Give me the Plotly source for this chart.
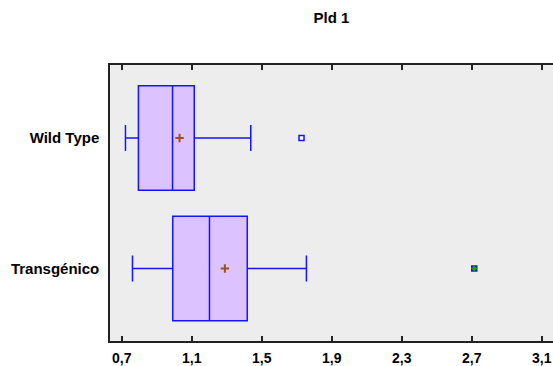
import plotly.graph_objects as go

# Box-and-whisker summary for Pld 1
groups = ["Wild Type", "Transgénico"]
positions = [1, 0]
lower_whisker = [0.721, 0.761]
q1 = [0.795, 0.991]
median = [0.990, 1.201]
q3 = [1.114, 1.417]
upper_whisker = [1.437, 1.755]
means = [1.030, 1.289]

# outside points (open square) and far-out points (filled square)
outlier_x = [1.727]
outlier_pos = [1]
far_outlier_x = [2.714]
far_outlier_pos = [0]

x_ticks = [0.7, 1.1, 1.5, 1.9, 2.3, 2.7, 3.1]

BLUE = "#1414FF"
FONT = "Liberation Sans, Arial, sans-serif"

fig = go.Figure()

fig.add_trace(go.Box(
    y=positions,
    q1=q1, median=median, q3=q3,
    lowerfence=lower_whisker, upperfence=upper_whisker,
    orientation="h",
    width=0.8,
    whiskerwidth=0.25,
    fillcolor="#DCC2FF",
    line=dict(color=BLUE, width=1.5),
    boxpoints=False,
    hoverinfo="skip",
    showlegend=False,
))

fig.add_trace(go.Scatter(
    x=means, y=positions, mode="markers",
    marker=dict(symbol="cross-thin", size=6, line=dict(color="#A0501E", width=2)),
    showlegend=False, hoverinfo="skip",
))

fig.add_trace(go.Scatter(
    x=outlier_x, y=outlier_pos, mode="markers",
    marker=dict(symbol="square", size=5, color="white", line=dict(color=BLUE, width=1.5)),
    showlegend=False, hoverinfo="skip",
))

fig.add_trace(go.Scatter(
    x=far_outlier_x, y=far_outlier_pos, mode="markers",
    marker=dict(symbol="square", size=5, color="#2E8B2E", line=dict(color=BLUE, width=1.5)),
    showlegend=False, hoverinfo="skip",
))
fig.add_trace(go.Scatter(
    x=far_outlier_x, y=far_outlier_pos, mode="markers",
    marker=dict(symbol="cross-thin", size=4, line=dict(color="#1E9E1E", width=1.5)),
    showlegend=False, hoverinfo="skip",
))

fig.update_layout(
    width=553, height=366,
    margin=dict(l=110, r=0, t=65, b=23),
    paper_bgcolor="white",
    plot_bgcolor="#EDEDED",
    separators=",.",
    font=dict(family=FONT, size=14, color="black"),
    title=dict(
        text="Pld 1", x=0.5, xref="paper", xanchor="center",
        y=1 - 17.5 / 366, yref="container", yanchor="middle",
        font=dict(family=FONT, size=15, weight="bold", color="black"),
    ),
)

fig.update_xaxes(
    range=[0.6326, 0.6326 + 443 / 175],
    tickvals=x_ticks,
    tickformat=".1f",
    ticks="inside", ticklen=5, tickwidth=1.5, tickcolor="#222",
    showline=True, linecolor="#222", linewidth=1.5, mirror="ticks",
    showgrid=False, zeroline=False,
    ticklabelstandoff=3,
    tickfont=dict(family=FONT, size=14, weight="bold"),
)

fig.update_yaxes(
    range=[-0.555, 1.559],
    tickvals=positions, ticktext=groups,
    ticks="", showline=True, linecolor="#222", linewidth=1.5, mirror=False,
    showgrid=False, zeroline=False,
    ticklabelstandoff=6,
    tickfont=dict(family=FONT, size=15, weight="bold"),
)

fig.write_html("out.html")
